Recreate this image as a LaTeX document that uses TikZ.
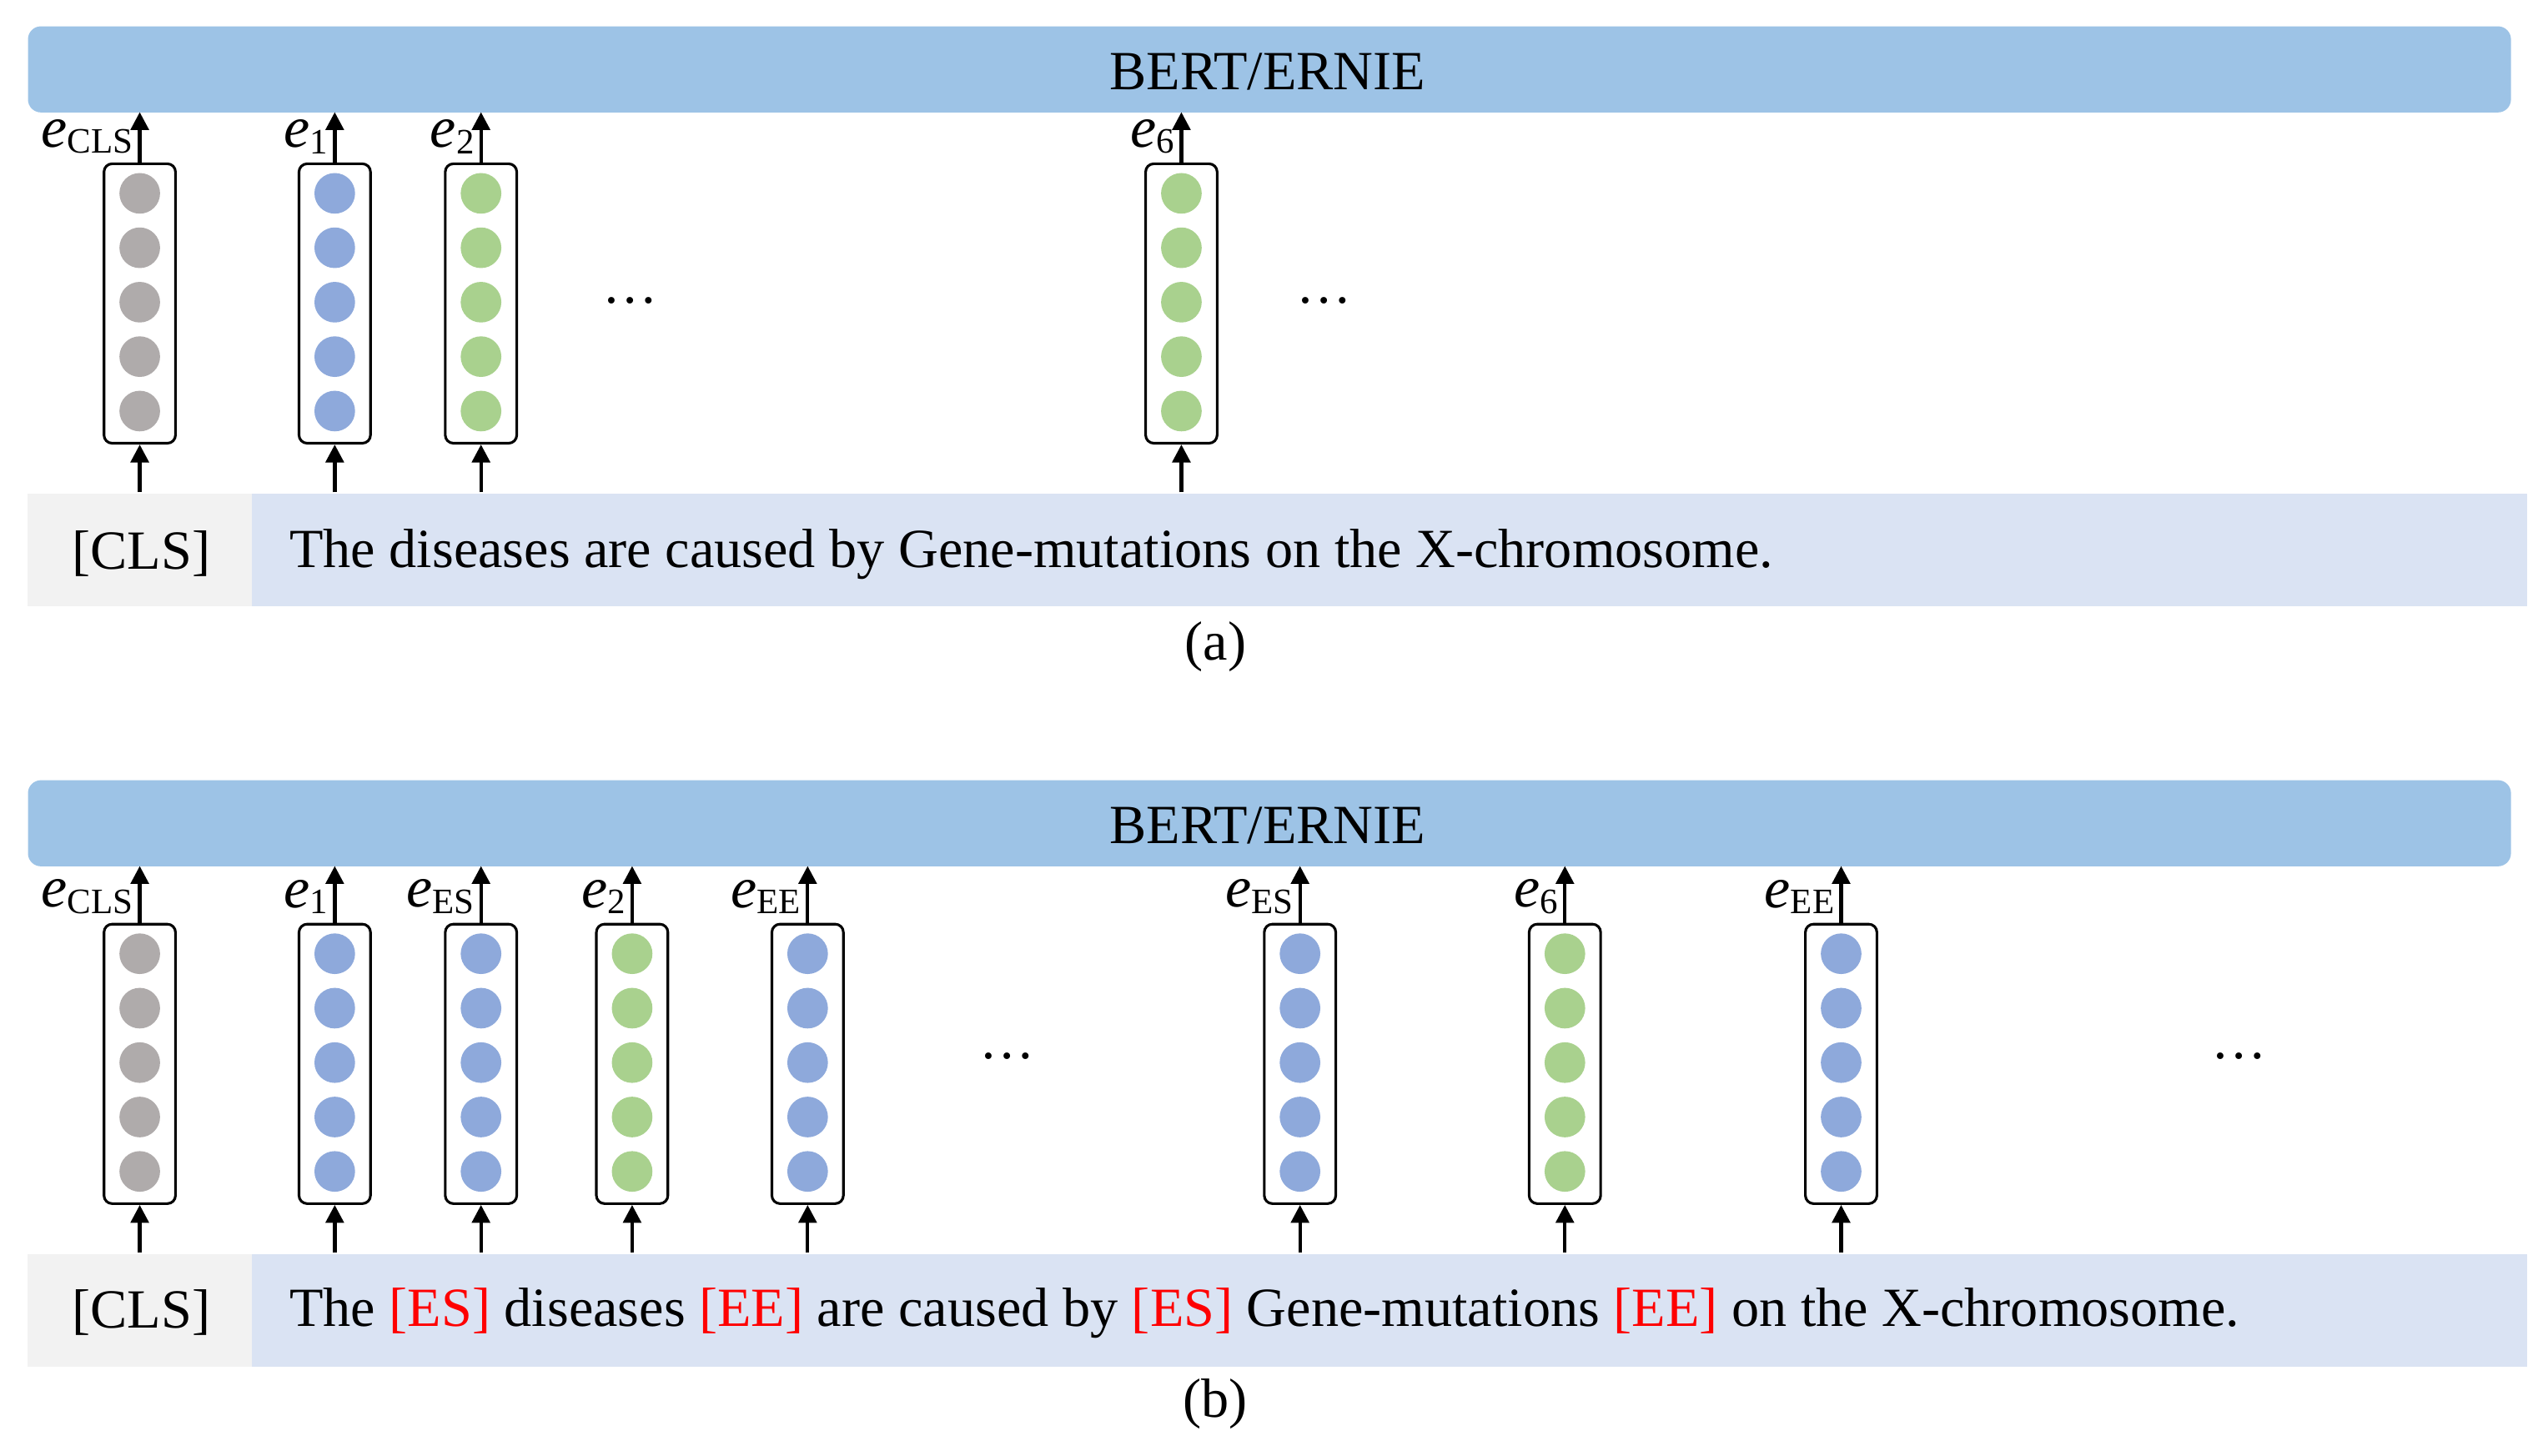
\documentclass[tikz,border=0pt]{standalone}
\usepackage{fontspec}
\setmainfont{Liberation Serif}
\usetikzlibrary{arrows.meta}
\definecolor{barc}{HTML}{9DC3E6}
\definecolor{txtb}{HTML}{DAE3F3}
\definecolor{txtg}{HTML}{F2F2F2}
\definecolor{cg}{HTML}{AFABAB}
\definecolor{cb}{HTML}{8EA9DB}
\definecolor{cgr}{HTML}{A9D18E}
\newcommand{\lab}[1]{\fontsize{36}{40}\selectfont\textit{e}\fontsize{22}{24}\selectfont\raisebox{-4pt}{#1}}
\tikzset{
 bar/.style={fill=barc,rounded corners=8pt,draw=none},
 vec/.style={draw=black,line width=1.6pt,rounded corners=5pt,minimum width=44pt,minimum height=172pt,inner sep=0pt},
 arr/.style={-{Triangle[length=11pt,width=11pt]},line width=2.2pt},
 txt/.style={font=\fontsize{34}{38}\selectfont,inner sep=0pt},
}
\newcommand{\vecbox}[5]{% name, x, ytop, color, bary
 \node[vec,anchor=north] (#1) at (#2,#3) {};
 \foreach \k in {0,...,4}{\fill[#4] (#2,#3+19+\k*33.5) circle (12.5pt);}
}
\begin{document}
\begin{tikzpicture}[x=1pt,y=-1pt]
\useasboundingbox (0,0) rectangle (1568,896);
% ---- (a)
\node[bar,minimum width=1528pt,minimum height=53pt,anchor=north west] (ba) at (17,16) {};
\node[txt] at (780,44) {BERT/ERNIE};
\fill[txtg] (17,304) rectangle (155,373);
\fill[txtb] (155,304) rectangle (1555,373);
\node[txt] (clsa) at (87,341) {[CLS]};
\node[txt,anchor=west] (sa) at (178,341) {The diseases are caused by Gene-mutations on the X-chromosome.};
\node[txt] (capa) at (748,398) {(a)};
\foreach \n/\x/\c/\l in {a1/86/cg/CLS,a2/206/cb/1,a3/296/cgr/2,a4/727/cgr/6}{
 \vecbox{\n}{\x}{100}{\c}{}
 \coordinate (\n t) at (\x,69); \coordinate (\n b) at (\x,303);
 \draw[arr] (\n.north) -- (\n t);
 \draw[arr] (\n b) -- (\n.south);
 \node[anchor=east,inner sep=0pt] at (\x-4,84) {\lab{\l}};
}
\node[txt] at (388,185) {\dots};
\node[txt] at (815,185) {\dots};
% ---- (b)
\node[bar,minimum width=1528pt,minimum height=53pt,anchor=north west] (bb) at (17,480) {};
\node[txt] at (780,508) {BERT/ERNIE};
\fill[txtg] (17,772) rectangle (155,841);
\fill[txtb] (155,772) rectangle (1555,841);
\node[txt] (clsb) at (87,808) {[CLS]};
\node[txt,anchor=west] (sb) at (178,808) {The \textcolor{red}{[ES]} diseases \textcolor{red}{[EE]} are caused by \textcolor{red}{[ES]} Gene-mutations \textcolor{red}{[EE]} on the X-chromosome.};
\node[txt] (capb) at (748,864) {(b)};
\foreach \n/\x/\c/\l in {b1/86/cg/CLS,b2/206/cb/1,b3/296/cb/ES,b4/389/cgr/2,b5/497/cb/EE,b6/800/cb/ES,b7/963/cgr/6,b8/1133/cb/EE}{
 \vecbox{\n}{\x}{568}{\c}{}
 \coordinate (\n t) at (\x,533); \coordinate (\n b) at (\x,771);
 \draw[arr] (\n.north) -- (\n t);
 \draw[arr] (\n b) -- (\n.south);
 \node[anchor=east,inner sep=0pt] at (\x-4,552) {\lab{\l}};
}
\node[txt] at (620,650) {\dots};
\node[txt] at (1378,650) {\dots};
\end{tikzpicture}
\end{document}
